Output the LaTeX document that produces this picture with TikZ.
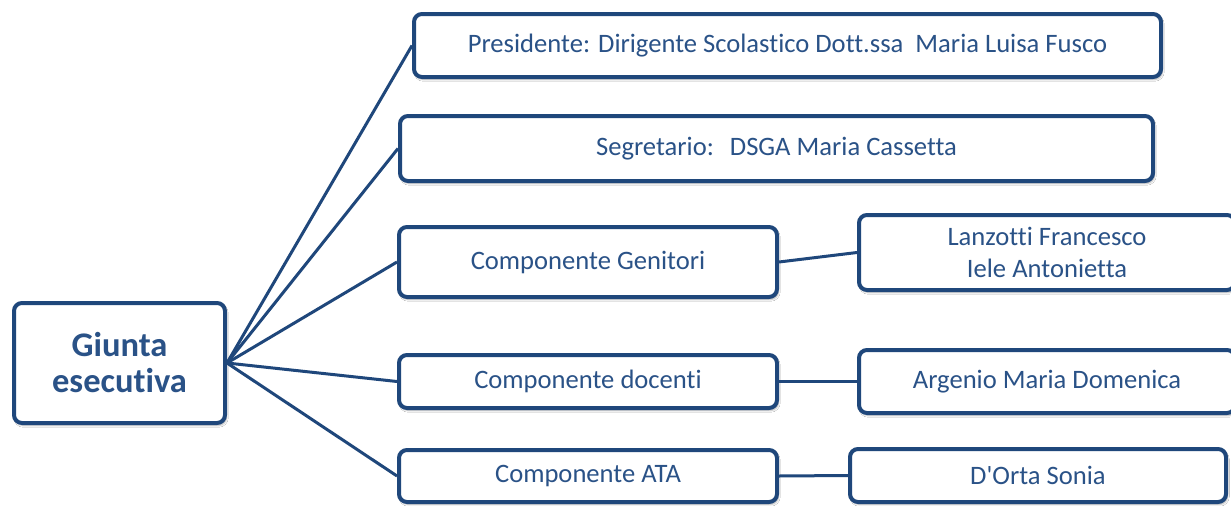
\documentclass[tikz,border=0pt]{standalone}
\usepackage{fontspec}
\newfontfamily\calfont{Carlito}[Ligatures=NoCommon]
\usetikzlibrary{shadows.blur}
\definecolor{navy}{HTML}{1F477B}
\definecolor{txt}{HTML}{2A5287}
\tikzset{
  box/.style={draw=navy, line width=4pt, rounded corners=8pt, fill=white,
    text=txt, align=center, inner sep=0pt,
    blur shadow={shadow xshift=1.5pt, shadow yshift=-2.5pt, shadow opacity=30, shadow blur steps=6},
    font=\calfont\fontsize{26.6}{32}\selectfont},
  link/.style={draw=navy, line width=3pt},
}
\begin{document}
\begin{tikzpicture}[x=1pt,y=-1pt]
\fill[white] (0,0) rectangle (1231,506);
\useasboundingbox (0,0) rectangle (1231,506);
\clip (0,0) rectangle (1231,506);
\node[box, minimum width=211pt, minimum height=120pt, font=\calfont\bfseries\fontsize{34.5}{36}\selectfont] (g) at (119.5,363) {Giunta\\esecutiva};
\node[box, minimum width=747pt, minimum height=63pt] (pres) at (787.5,45.5) {Presidente: Dirigente Scolastico Dott.ssa\ \ Maria Luisa Fusco};
\node[box, minimum width=753pt, minimum height=65pt] (seg) at (776.5,148.5) {Segretario:\hspace{0.6em}DSGA Maria Cassetta};
\node[box, minimum width=378pt, minimum height=70pt] (gen) at (588,262) {Componente Genitori};
\node[box, minimum width=376pt, minimum height=75pt] (lanz) at (1047,252.5) {Lanzotti Francesco\\Iele Antonietta};
\node[box, minimum width=378pt, minimum height=53pt] (doc) at (588,381.5) {Componente docenti};
\node[box, minimum width=376pt, minimum height=63pt] (arg) at (1047,381.5) {Argenio Maria Domenica};
\node[box, minimum width=378pt, minimum height=52pt] (ata) at (588,476) {Componente ATA};
\node[box, minimum width=376pt, minimum height=53pt] (dorta) at (1038,475.5) {D'Orta Sonia};
\draw[link] (g.east) -- (pres.west);
\draw[link] (g.east) -- (seg.west);
\draw[link] (g.east) -- (gen.west);
\draw[link] (g.east) -- (doc.west);
\draw[link] (g.east) -- (ata.west);
\draw[link] (gen.east) -- (lanz.west);
\draw[link] (doc.east) -- (arg.west);
\draw[link] (ata.east) -- (dorta.west);
\end{tikzpicture}
\end{document}
